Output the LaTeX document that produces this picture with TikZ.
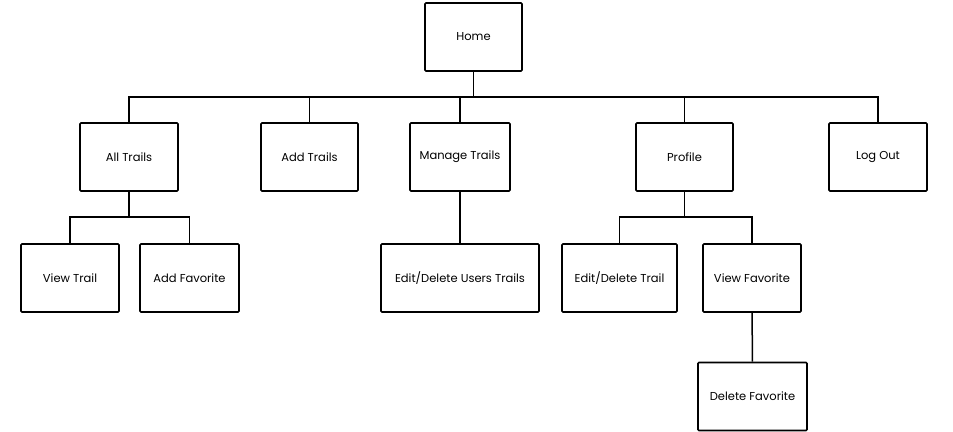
\documentclass[tikz,border=0pt]{standalone}
\usepackage{fontspec}
\setmainfont{Poppins}
\begin{document}
\begin{tikzpicture}[x=1pt,y=1pt]
  \useasboundingbox (0,0) rectangle (953,-431);

  % Stile.
  \tikzstyle{page}=[draw, line width=1.6pt, rounded corners=1pt, minimum height=68pt, inner sep=2pt, font=\fontsize{11.5}{13}\selectfont]
  \tikzstyle{link}=[line width=1.5pt]

  % Seiten.
  \node[page, minimum width=97pt] (home) at (473.5,-37) {Home};

  \node[page, minimum width=98pt] (alltrails) at (129,-157) {All Trails};
  \node[page, minimum width=97pt] (addtrails) at (309.5,-157) {Add Trails};
  \node[page, minimum width=100pt] (manage) at (460,-157) {Manage Trails};
  \node[page, minimum width=97pt] (profile) at (684.5,-157) {Profile};
  \node[page, minimum width=98pt] (logout) at (878,-157) {Log Out};

  \node[page, minimum width=98pt] (viewtrail) at (70,-278) {View Trail};
  \node[page, minimum width=99pt] (addfav) at (189.5,-278) {Add Favorite};
  \node[page, minimum width=158pt] (edituser) at (460,-278) {Edit/Delete Users Trails};
  \node[page, minimum width=115pt] (edittrail) at (619.5,-278) {Edit/Delete Trail};
  \node[page, minimum width=98pt] (viewfav) at (752,-278) {View Favorite};

  \node[page, minimum width=109pt] (delfav) at (752.5,-396.5) {Delete Favorite};

  % Verbindungen.
  \coordinate (bus) at (473.5,-97);
  \coordinate (busA) at (129,-217);
  \coordinate (busP) at (684.5,-217);

  \draw[link] (home.south) -- (bus);
  \draw[link] (bus) -| (alltrails.north);
  \draw[link] (bus) -| (addtrails.north);
  \draw[link] (bus) -| (manage.north);
  \draw[link] (bus) -| (profile.north);
  \draw[link] (bus) -| (logout.north);

  \draw[link] (alltrails.south) -- (busA);
  \draw[link] (busA) -| (viewtrail.north);
  \draw[link] (busA) -| (addfav.north);

  \path[link] (manage) edge (edituser);

  \draw[link] (profile.south) -- (busP);
  \draw[link] (busP) -| (edittrail.north);
  \draw[link] (busP) -| (viewfav.north);

  \path[link] (viewfav) edge (delfav);
\end{tikzpicture}
\end{document}
